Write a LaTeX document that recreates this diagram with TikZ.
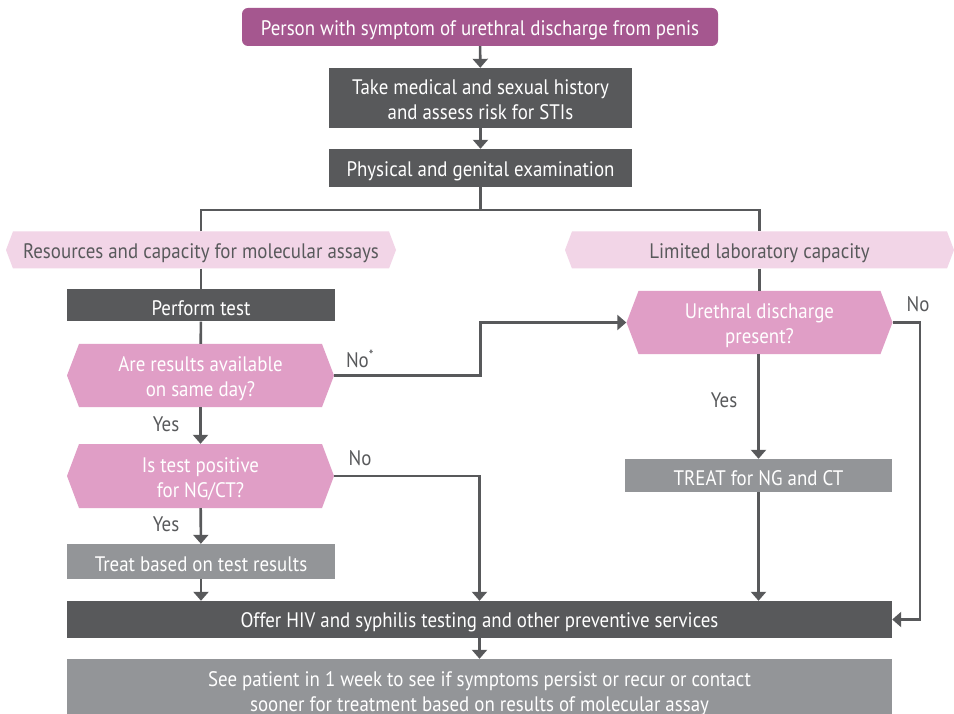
\documentclass[tikz,border=0pt]{standalone}
\usepackage{fontspec}
\setmainfont[FakeStretch=0.9]{PT Sans}
\usetikzlibrary{arrows.meta,calc}
\definecolor{plum}{HTML}{A5578F}
\definecolor{dgray}{HTML}{58595B}
\definecolor{mgray}{HTML}{939598}
\definecolor{lpink}{HTML}{F2D5E7}
\definecolor{mpink}{HTML}{E09EC6}
\newcommand{\lowA}{\rule{0pt}{21pt}}
\newcommand{\lowB}{\rule{0pt}{18pt}}
\begin{document}
\begin{tikzpicture}[x=1pt,y=-1pt,
  every node/.style={font=\fontsize{21}{25}\selectfont, inner sep=0pt, align=center},
  lower/.style={execute at begin node={\rule{0pt}{21pt}}},
  box/.style={rectangle, fill=#1, text=white, lower},
  hexa/.style n args={3}{rectangle, text=#3, lower,
    path picture={\fill[#1] ([xshift=#2]path picture bounding box.north west)
      -- ([xshift=-#2]path picture bounding box.north east)
      -- (path picture bounding box.east)
      -- ([xshift=-#2]path picture bounding box.south east)
      -- ([xshift=#2]path picture bounding box.south west)
      -- (path picture bounding box.west) -- cycle;}},
  lbl/.style={text=dgray},
  conn/.style={draw=dgray, line width=2.6pt},
  arr/.style={conn, -{Triangle[width=15pt,length=9pt]}}]
\useasboundingbox (0,0) rectangle (954,714);
\clip (0,0) rectangle (954,714);
\fill[white] (0,0) rectangle (954,714);

\node[box=plum, rounded corners=6pt, minimum width=476, minimum height=38] (top) at (480,27) {Person with symptom of urethral discharge from penis};
\node[box=dgray, minimum width=303, minimum height=60] (hist) at (480.5,98) {\lowB Take medical and sexual history\\and assess risk for STIs};
\node[box=dgray, minimum width=303, minimum height=38] (exam) at (480.5,168) {Physical and genital examination};

\node[hexa={lpink}{7}{dgray}, minimum width=390, minimum height=37] (resL) at (201,250) {Resources and capacity for molecular assays};
\node[hexa={lpink}{7}{dgray}, minimum width=389, minimum height=37] (resR) at (759.5,250) {Limited laboratory capacity};

\node[box=dgray, minimum width=268, minimum height=32] (perf) at (201,305.5) {Perform test};
\node[hexa={mpink}{12}{white}, minimum width=267, minimum height=63] (q1) at (200.5,375.5) {\lowA Are results available\\on same day?};
\node[hexa={mpink}{12}{white}, minimum width=267, minimum height=64] (q2) at (200.5,476) {\lowA Is test positive\\for NG/CT?};
\node[box=mgray, minimum width=268, minimum height=35] (treatL) at (201,561.5) {Treat based on test results};

\node[hexa={mpink}{12}{white}, minimum width=266, minimum height=63] (ure) at (759.5,322.5) {\lowA Urethral discharge\\present?};
\node[box=mgray, minimum width=267, minimum height=33] (treatR) at (758.5,475.5) {TREAT for NG and CT};

\node[box=dgray, minimum width=825, minimum height=37] (offer) at (479.5,619.5) {Offer HIV and syphilis testing and other preventive services};
\node[box=mgray, minimum width=825, minimum height=64] (see) at (479.5,691) {\lowA See patient in 1 week to see if symptoms persist or recur or contact\\sooner for treatment based on results of molecular assay};

\coordinate (split) at (480.5,210);
\coordinate (jmid) at (480.5,350);
\coordinate (jright) at (920,350);

\draw[arr] (top) -- (hist);
\draw[arr] (hist) -- (exam);
\draw[conn] (exam) -- (split);
\draw[conn] (resL.north) |- (split) -| (resR.north);
\draw[conn] (resL) -- (perf);
\draw[conn] (perf) -- (q1);
\draw[conn] (resR) -- (ure);
\draw[arr] (q1) -- (q2);
\draw[arr] (q1.east) -| (jmid) |- (ure.west);
\draw[arr] (q2.east) -| (offer.north);
\draw[arr] (q2) -- (treatL);
\draw[arr] (treatL) -- (treatL.south |- offer.north);
\draw[arr] (ure.south -| treatR.north) -- (treatR);
\draw[arr] (treatR) -- (treatR.south |- offer.north);
\draw[arr] (ure.east) -| (jright) |- (offer.east);
\draw[arr] (offer) -- (see);

\node[lbl] (no1) at (360,359) {No\textsuperscript{*}};
\node[lbl] (yes1) at (166,424) {Yes};
\node[lbl] (no2) at (360,458) {No};
\node[lbl] (yes2) at (166,524) {Yes};
\node[lbl] (no3) at (918,304) {No};
\node[lbl] (yes3) at (724,400) {Yes};
\end{tikzpicture}
\end{document}
